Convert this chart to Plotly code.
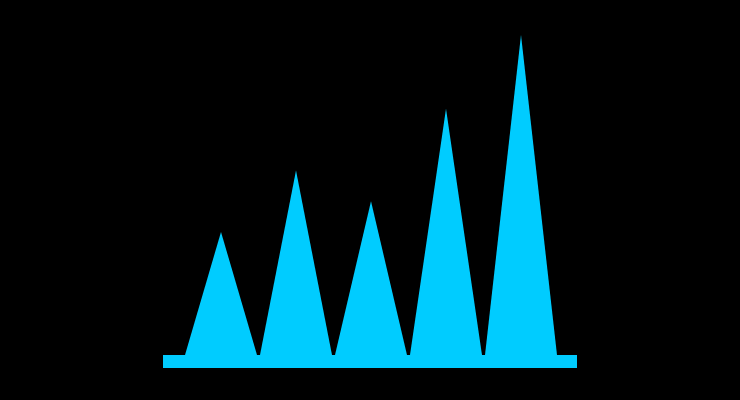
import plotly.graph_objects as go

categories = ["A", "B", "C", "D", "E"]
values = [20, 30, 25, 40, 52]

COLOR = "#00CCFF"
HALF = 0.48

fig = go.Figure()
for i, (c, v) in enumerate(zip(categories, values)):
    fig.add_trace(go.Scatter(
        x=[i - HALF, i, i + HALF, i - HALF],
        y=[0, v, 0, 0],
        fill="toself", fillcolor=COLOR, mode="lines",
        line=dict(color=COLOR, width=0), name=c, hoverinfo="skip",
        showlegend=False,
    ))

ymax = max(values)
px_per_unit = 320 / ymax
base_h = 13 / px_per_unit

fig.add_shape(type="rect", xref="paper", yref="y", x0=0, x1=1,
              y0=-base_h, y1=0, fillcolor=COLOR, line=dict(width=0), layer="below")

fig.update_layout(
    width=740, height=400,
    paper_bgcolor="black", plot_bgcolor="black",
    margin=dict(l=163, r=163, t=35, b=32),
    xaxis=dict(range=[-58/75, 4 + 56/75], visible=False, fixedrange=True),
    yaxis=dict(range=[-base_h, ymax], visible=False, fixedrange=True),
    showlegend=False,
)
fig.write_html(
    "out.html",
    config={"displayModeBar": False},
    post_script="document.body.style.margin='0';document.body.style.background='black';",
)
